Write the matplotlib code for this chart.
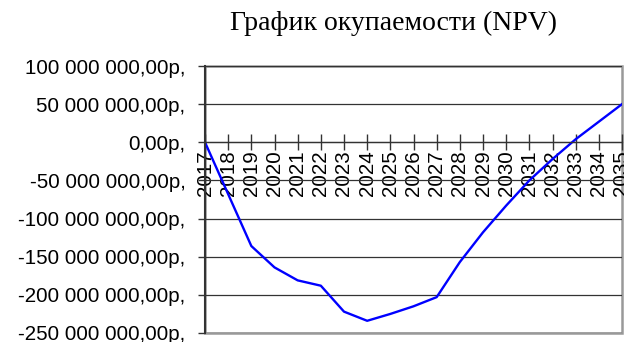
import matplotlib
matplotlib.use("Agg")
from matplotlib import pyplot as plt
from matplotlib.ticker import FuncFormatter, MultipleLocator
from matplotlib.patches import Rectangle

years = list(range(2017, 2036))
npv = [0, -68e6, -136e6, -164e6, -181e6, -188e6, -222e6, -234e6, -225e6,
       -215e6, -203e6, -157e6, -118e6, -83e6, -50e6, -22e6, 4e6, 27e6, 50e6]

title = "График окупаемости (NPV)"


def rub(v, pos):
    s = "{:,.2f}".format(v).replace(",", " ").replace(".", ",")
    return s + "р,"


fig = plt.figure(figsize=(6.24, 3.42), dpi=100)
ax = fig.add_axes([205 / 624, 1 - 333 / 342, 417 / 624, 267 / 342])

ax.plot(years, npv, color="#0000ff", lw=1.7, solid_joinstyle="round")

ax.spines["bottom"].set_position(("data", 0))
ax.set_xlim(years[0], years[-1])
ax.set_ylim(-250e6, 100e6)
ax.yaxis.set_major_locator(MultipleLocator(50e6))
ax.yaxis.set_major_formatter(FuncFormatter(rub))
ax.set_xticks(years)
ax.set_xticklabels([str(y) for y in years])

ax.grid(axis="y", color="#333333", lw=0.9)
ax.set_axisbelow(True)

for s in ["top", "right"]:
    ax.spines[s].set_visible(False)
ax.spines["left"].set_color("#333333")
ax.spines["left"].set_linewidth(1.5)
ax.spines["bottom"].set_color("#333333")
ax.spines["bottom"].set_linewidth(0.9)

ax.add_patch(Rectangle((0, 0), 1, 1, transform=ax.transAxes, fill=False,
                       ec="#999999", lw=1.8, clip_on=False, zorder=0.5))

ax.tick_params(axis="y", direction="out", length=5, width=1, color="#333333",
               labelsize=14.8, pad=9)
ax.tick_params(axis="x", direction="inout", length=11, width=1, color="#333333",
               labelsize=14.8, pad=0, labelrotation=90)
for lab in ax.get_xticklabels() + ax.get_yticklabels():
    lab.set_fontfamily("Liberation Sans")

fig.text(394 / 624, 1 - 23 / 342, title, ha="center", va="center",
         fontsize=20, family="Liberation Serif")

fig.savefig("out.png", dpi=100)
